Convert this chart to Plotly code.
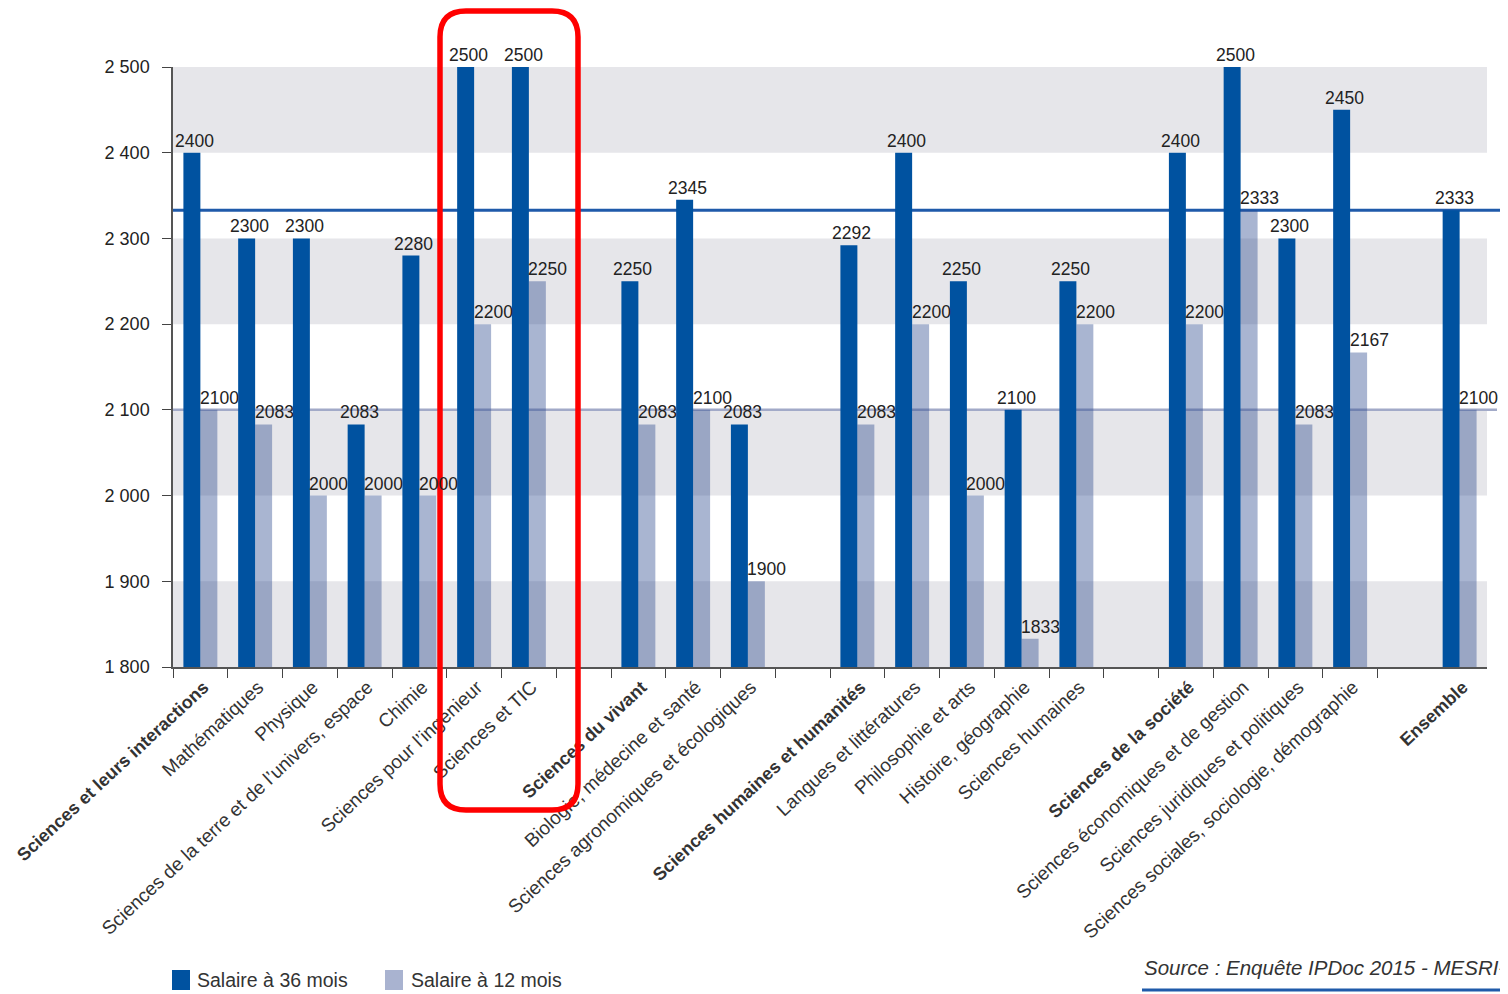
import plotly.graph_objects as go

# ---- data ----
categories = [
    "Sciences et leurs interactions", "Mathématiques", "Physique",
    "Sciences de la terre et de l’univers, espace", "Chimie",
    "Sciences pour l’ingénieur", "Sciences et TIC",
    "Sciences du vivant", "Biologie, médecine et santé",
    "Sciences agronomiques et écologiques",
    "Sciences humaines et humanités", "Langues et littératures",
    "Philosophie et arts", "Histoire, géographie", "Sciences humaines",
    "Sciences de la société", "Sciences économiques et de gestion",
    "Sciences juridiques et politiques",
    "Sciences sociales, sociologie, démographie",
    "Ensemble",
]
group_sizes = [7, 3, 5, 4, 1]
salaire_36 = [2400, 2300, 2300, 2083, 2280, 2500, 2500,
              2250, 2345, 2083,
              2292, 2400, 2250, 2100, 2250,
              2400, 2500, 2300, 2450,
              2333]
salaire_12 = [2100, 2083, 2000, 2000, 2000, 2200, 2250,
              2083, 2100, 1900,
              2083, 2200, 2000, 1833, 2200,
              2200, 2333, 2083, 2167,
              2100]
series_names = ["Salaire à 36 mois", "Salaire à 12 mois"]
y_ticks = [1800, 1900, 2000, 2100, 2200, 2300, 2400, 2500]
y_ticktext = ["1 800", "1 900", "2 000", "2 100", "2 200", "2 300", "2 400", "2 500"]
source_text = "Source : Enquête IPDoc 2015 - MESRI-SIES"

# ---- layout helpers (page body has an 8px margin) ----
OFF = 8
W, H = 1508 - OFF, 994 - OFF
PLOT_L, PLOT_R, PLOT_T, PLOT_B = 173, 1487, 67, 667   # in window pixels
L, T = PLOT_L - OFF, PLOT_T - OFF
R, B = W - (PLOT_R - OFF), H - (PLOT_B - OFF)
PW, PH = PLOT_R - PLOT_L, PLOT_B - PLOT_T


def px(x):
    return (x - PLOT_L) / PW


def py(y):
    return (PLOT_B - y) / PH


positions, ticktext = [], []
k, idx = 0, 0
for size in group_sizes:
    for i in range(size):
        positions.append(k)
        name = categories[idx]
        ticktext.append(f"<b><span style='font-size:18px'>{name}</span></b>"
                        if i == 0 else name)
        k += 1
        idx += 1
    k += 1
n_slots = positions[-1] + 1

FONT = "Liberation Sans, Arial, sans-serif"
DARK = "#0052A0"
LIGHT = "rgba(40,70,140,0.40)"
LIGHT_SWATCH = "#A9B3D0"

fig = go.Figure()
fig.add_trace(go.Bar(x=positions, y=salaire_36, name=series_names[0],
                     marker=dict(color=DARK, line=dict(width=0))))
fig.add_trace(go.Bar(x=positions, y=salaire_12, name=series_names[1],
                     marker=dict(color=LIGHT, line=dict(width=0))))

shapes = []
# grey bands
for lo in [1800, 2000, 2200, 2400]:
    shapes.append(dict(type="rect", xref="paper", yref="y", x0=0, x1=1,
                       y0=lo, y1=lo + 100, fillcolor="#E6E6EA",
                       line=dict(width=0), layer="below"))
# reference lines (Ensemble values)
shapes.append(dict(type="line", xref="paper", yref="y", x0=0, x1=px(1497),
                   y0=salaire_12[-1], y1=salaire_12[-1],
                   line=dict(color="#A2AAC8", width=2.5), layer="below"))
shapes.append(dict(type="line", xref="paper", yref="y", x0=0, x1=px(1503),
                   y0=salaire_36[-1], y1=salaire_36[-1],
                   line=dict(color="#1F5AAA", width=3), layer="below"))

# red rounded highlight box
x0, x1, y0, y1, r = 440, 578, 11, 810, 26
path = (f"M{px(x0 + r)},{py(y0)} L{px(x1 - r)},{py(y0)} "
        f"Q{px(x1)},{py(y0)} {px(x1)},{py(y0 + r)} "
        f"L{px(x1)},{py(y1 - r)} Q{px(x1)},{py(y1)} {px(x1 - r)},{py(y1)} "
        f"L{px(x0 + r)},{py(y1)} Q{px(x0)},{py(y1)} {px(x0)},{py(y1 - r)} "
        f"L{px(x0)},{py(y0 + r)} Q{px(x0)},{py(y0)} {px(x0 + r)},{py(y0)} Z")
shapes.append(dict(type="path", xref="paper", yref="paper", path=path,
                   line=dict(color="#FF0000", width=5.5), layer="above"))
# source underline
shapes.append(dict(type="line", xref="paper", yref="paper",
                   x0=px(1142), x1=px(1515), y0=py(990), y1=py(990),
                   line=dict(color="#1F5AAA", width=3)))

# legend swatches (drawn manually for the reference's square size)
for sx, col in [(172, DARK), (385, LIGHT_SWATCH)]:
    shapes.append(dict(type="rect", xref="paper", yref="paper",
                       x0=px(sx), x1=px(sx + 18), y0=py(990), y1=py(970),
                       fillcolor=col, line=dict(width=0)))

annotations = []
VAL_FONT = dict(family=FONT, size=17.5, color="#222")
for p, v in zip(positions, salaire_36):
    annotations.append(dict(x=p, y=v, xref="x", yref="y", text=str(v),
                            showarrow=False, yanchor="bottom", xshift=-5.5,
                            yshift=0, font=VAL_FONT))
for p, v in zip(positions, salaire_12):
    annotations.append(dict(x=p, y=v, xref="x", yref="y", text=str(v),
                            showarrow=False, yanchor="bottom", xshift=19,
                            yshift=0, font=VAL_FONT))
for tx, name in [(195, series_names[0]), (409, series_names[1])]:
    annotations.append(dict(x=px(tx), y=py(980), xref="paper", yref="paper",
                            xanchor="left", yanchor="middle", showarrow=False,
                            text=name, font=dict(family=FONT, size=19.5, color="#333")))
annotations.append(dict(x=px(1142), y=py(967), xref="paper", yref="paper",
                        xanchor="left", yanchor="middle", showarrow=False,
                        text=f"<i>{source_text}</i>",
                        font=dict(family=FONT, size=20.5, color="#333")))

fig.update_layout(
    width=W, height=H,
    margin=dict(l=L, r=R, t=T, b=B, pad=0, autoexpand=False),
    paper_bgcolor="white", plot_bgcolor="white",
    barmode="group", bargap=0.38, bargroupgap=0,
    shapes=shapes, annotations=annotations,
    font=dict(family=FONT, color="#333"),
    showlegend=False,
    xaxis=dict(range=[-0.5, n_slots - 0.5], tickmode="array",
               tickvals=positions, ticktext=ticktext, tickangle=-43,
               ticks="", showgrid=False, zeroline=False,
               showline=True, linecolor="#555", linewidth=1.5,
               ticklabeloverflow="allow", automargin=False,
               ticklabelshift=3,
               tickfont=dict(family=FONT, size=19, color="#333"),
               minor=dict(tickmode="array",
                          tickvals=[j - 0.5 for j in range(n_slots - 1)],
                          ticks="outside", ticklen=9, tickwidth=1.3,
                          tickcolor="#444", showgrid=False)),
    yaxis=dict(range=[1800, 2500], tickmode="array", tickvals=y_ticks,
               ticktext=y_ticktext, ticks="outside", ticklen=9, tickwidth=1.3,
               tickcolor="#444", showgrid=False, zeroline=False,
               showline=True, linecolor="#555", linewidth=1.5,
               ticklabelstandoff=9, automargin=False,
               tickfont=dict(family=FONT, size=18, color="#222")),
)

fig.write_html("out.html")
